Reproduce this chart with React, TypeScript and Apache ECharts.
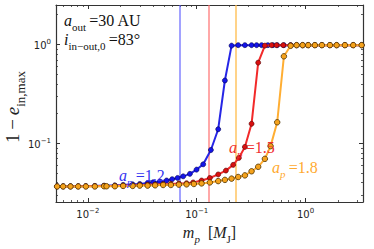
import React, { useEffect, useRef } from 'react';
import * as echarts from 'echarts';

// axis ranges
const xMin = 0.0051;
const xMax = 3.37;
const yMin = 0.0255;
const yMax = 2.51;
const xMinorTicks = [0.006, 0.007, 0.008, 0.009, 0.02, 0.03, 0.04, 0.05, 0.06, 0.07, 0.08, 0.09, 0.2, 0.3, 0.4, 0.5, 0.6, 0.7, 0.8, 0.9, 2, 3];
const yMinorTicks = [0.03, 0.04, 0.05, 0.06, 0.07, 0.08, 0.09, 0.2, 0.3, 0.4, 0.5, 0.6, 0.7, 0.8, 0.9, 2];

// a_p = 1.2
const massBlue = [0.00522, 0.00593, 0.00693, 0.00815, 0.00959, 0.0116, 0.0141, 0.0177, 0.0211, 0.0258, 0.0300, 0.0354, 0.0398, 0.0459, 0.0529, 0.0595, 0.0667, 0.0751, 0.0866, 0.0997, 0.1147, 0.1350, 0.1576, 0.1815, 0.2091, 0.2405, 0.2771, 0.3192, 0.3549, 0.3946, 0.4508, 0.5011, 0.5489, 0.6324, 0.7288, 0.8273, 0.9394, 1.057, 1.218, 1.413, 1.674, 1.929, 2.298, 2.740, 3.273];
const valBlue = [0.03677, 0.03677, 0.03677, 0.03677, 0.03694, 0.0371, 0.03735, 0.0376, 0.03794, 0.03846, 0.0388, 0.03967, 0.04039, 0.04112, 0.04205, 0.04338, 0.04465, 0.04637, 0.04913, 0.0542, 0.06137, 0.0857, 0.1389, 0.4323, 0.974, 0.985, 0.985, 0.985, 0.985, 0.985, 0.985, 0.985, 0.985, 0.985, 0.985, 0.985, 0.985, 0.985, 0.985, 0.985, 0.985, 0.985, 0.985, 0.985, 0.985];

// a_p = 1.5
const massRed = [0.00522, 0.00593, 0.00693, 0.00815, 0.00959, 0.0116, 0.0141, 0.0177, 0.0211, 0.0258, 0.0300, 0.0354, 0.0415, 0.0492, 0.0579, 0.0686, 0.0807, 0.0928, 0.1109, 0.1321, 0.1576, 0.1854, 0.2163, 0.2440, 0.2771, 0.3192, 0.3671, 0.4230, 0.4875, 0.5419, 0.6230, 0.7288, 0.8273, 0.9394, 1.057, 1.218, 1.413, 1.674, 1.929, 2.298, 2.740, 3.273];
const valRed = [0.03669, 0.03669, 0.03669, 0.03677, 0.03677, 0.03694, 0.0371, 0.03719, 0.03735, 0.0376, 0.03785, 0.03811, 0.03837, 0.03863, 0.03888, 0.03923, 0.0395, 0.04022, 0.04205, 0.04465, 0.04848, 0.053, 0.06058, 0.07126, 0.09201, 0.1577, 0.6556, 0.974, 0.985, 0.985, 0.985, 0.985, 0.985, 0.985, 0.985, 0.985, 0.985, 0.985, 0.985, 0.985, 0.985, 0.985];

// a_p = 1.8
const massOrange = [0.00522, 0.00593, 0.00693, 0.00815, 0.00959, 0.0116, 0.0141, 0.01485, 0.0177, 0.0211, 0.0258, 0.0300, 0.0354, 0.0415, 0.0492, 0.0579, 0.0686, 0.0807, 0.0942, 0.1109, 0.1321, 0.1576, 0.1815, 0.2091, 0.2405, 0.2771, 0.3192, 0.3671, 0.4230, 0.4773, 0.5489, 0.6324, 0.7288, 0.8273, 0.9394, 1.057, 1.218, 1.413, 1.674, 1.929, 2.298, 2.740, 3.273];
const valOrange = [0.0366, 0.0366, 0.0366, 0.0366, 0.0366, 0.0366, 0.0368, 0.0368, 0.0368, 0.0371, 0.0371, 0.03735, 0.03735, 0.0376, 0.0379, 0.0379, 0.0382, 0.03846, 0.0388, 0.03933, 0.04022, 0.04149, 0.0427, 0.04395, 0.04564, 0.0474, 0.05218, 0.05791, 0.06969, 0.09369, 0.1634, 0.7594, 0.970, 0.985, 0.985, 0.985, 0.985, 0.985, 0.985, 0.985, 0.985, 0.985, 0.985];

// critical masses (vertical lines)
const critBlue = 0.0669;
const critRed = 0.131;
const critOrange = 0.227;

const SERIF = 'Liberation Serif';
const SANS = 'DejaVu Sans';

// rich styles; key is 'color' for axis names and 'fill' for graphic texts
function mathRich(size: number, color: string, key: 'color' | 'fill') {
  const lift = Math.round(size * 0.28);
  const sub = Math.round(size * 0.68);
  return {
    i: { fontFamily: SERIF, fontStyle: 'italic', fontSize: size, [key]: color, verticalAlign: 'bottom', padding: [0, 0, lift, 0] },
    n: { fontFamily: SERIF, fontSize: size, [key]: color, verticalAlign: 'bottom', padding: [0, 0, lift, 0] },
    s: { fontFamily: SERIF, fontStyle: 'italic', fontSize: sub, [key]: color, verticalAlign: 'bottom' },
    r: { fontFamily: SERIF, fontSize: sub, [key]: color, verticalAlign: 'bottom' },
  };
}

function powLabel(v: number) {
  const e = Math.log10(v);
  const r = Math.round(e);
  if (Math.abs(e - r) > 1e-6) return '';
  return '{b|10}{p|' + (r < 0 ? '\u2212' + Math.abs(r) : String(r)) + '}';
}

const tickRich = {
  b: { fontFamily: SANS, fontSize: 10, color: '#222', verticalAlign: 'bottom' },
  p: { fontFamily: SANS, fontSize: 7, color: '#222', verticalAlign: 'bottom', padding: [0, 0, 5, 0] },
};

const frame = { show: true, onZero: false, lineStyle: { color: '#333', width: 1.2 } };

function makeX(pos: 'bottom' | 'top', major: boolean, withLabel: boolean, name?: any) {
  return {
    type: 'log',
    min: xMin,
    max: xMax,
    position: pos,
    axisLine: major ? frame : { show: false },
    splitLine: { show: false },
    axisTick: major
      ? { show: true, inside: true, length: 4, lineStyle: { color: '#333', width: 1 } }
      : { show: true, inside: true, length: 2, customValues: xMinorTicks, lineStyle: { color: '#333', width: 0.8 } },
    axisLabel: withLabel
      ? { show: true, margin: 5, formatter: powLabel, rich: tickRich, showMinLabel: false, showMaxLabel: false }
      : { show: false },
    ...(name || {}),
  };
}

function makeY(pos: 'left' | 'right', major: boolean, withLabel: boolean) {
  return {
    type: 'log',
    min: yMin,
    max: yMax,
    position: pos,
    axisLine: major ? frame : { show: false },
    splitLine: { show: false },
    axisTick: major
      ? { show: true, inside: true, length: 4, lineStyle: { color: '#333', width: 1 } }
      : { show: true, inside: true, length: 2, customValues: yMinorTicks, lineStyle: { color: '#333', width: 0.8 } },
    axisLabel: withLabel
      ? { show: true, margin: 5, formatter: powLabel, rich: tickRich, showMinLabel: false, showMaxLabel: false }
      : { show: false },
  };
}

function pairs(xs: number[], ys: number[]) {
  return xs.map((x, i) => [x, ys[i]]);
}

function vline(x: number, color: string) {
  return {
    silent: true,
    symbol: 'none',
    label: { show: false },
    lineStyle: { color, width: 1.5, type: 'solid' },
    data: [{ xAxis: x }],
  };
}

function note(text: string, x: number, y: number, color: string) {
  return {
    type: 'text',
    x,
    y,
    z: 10,
    style: { text, rich: mathRich(16, color, 'fill'), align: 'left', verticalAlign: 'top' },
  };
}

export default function App() {
  const ref = useRef<HTMLDivElement>(null);
  useEffect(() => {
    if (!ref.current) return;
    const chart = echarts.init(ref.current, undefined, { renderer: 'svg' });
    chart.setOption({
      animation: false,
      backgroundColor: '#fff',
      grid: { left: 56, right: 11, top: 5, bottom: 38 },
      xAxis: [
        makeX('bottom', true, true, {
          name: '{i|m}{s|p}{n|  [}{i|M}{r|J}{n|]}',
          nameLocation: 'middle',
          nameGap: 22,
          nameMoveOverlap: false,
          nameTextStyle: { rich: mathRich(16, '#222', 'color') },
        }),
        makeX('top', true, false),
        makeX('bottom', false, false),
        makeX('top', false, false),
      ],
      yAxis: [
        makeY('left', true, true),
        makeY('right', true, false),
        makeY('left', false, false),
        makeY('right', false, false),
      ],
      series: [
        {
          type: 'line',
          name: 'ap12',
          xAxisIndex: 0,
          yAxisIndex: 0,
          data: pairs(massBlue, valBlue),
          symbol: 'circle',
          symbolSize: 5,
          itemStyle: { color: '#1515e8', borderColor: '#000050', borderWidth: 0.6 },
          lineStyle: { color: '#2626e6', width: 2 },
          z: 3,
          markLine: { ...vline(critBlue, 'rgba(90,90,255,0.75)'), z: 1 },
        },
        {
          type: 'line',
          name: 'ap15',
          xAxisIndex: 0,
          yAxisIndex: 0,
          data: pairs(massRed, valRed),
          symbol: 'circle',
          symbolSize: 5,
          itemStyle: { color: '#d81010', borderColor: '#500000', borderWidth: 0.6 },
          lineStyle: { color: '#f22a2a', width: 2 },
          z: 4,
          markLine: { ...vline(critRed, 'rgba(255,110,110,0.8)'), z: 1 },
        },
        {
          type: 'line',
          name: 'ap18',
          xAxisIndex: 0,
          yAxisIndex: 0,
          data: pairs(massOrange, valOrange),
          symbol: 'circle',
          symbolSize: 5.5,
          itemStyle: { color: '#f5a21c', borderColor: '#4a3000', borderWidth: 0.8 },
          lineStyle: { color: '#ffae33', width: 2 },
          z: 5,
          markLine: { ...vline(critOrange, 'rgba(255,190,80,0.9)'), z: 1 },
        },
      ],
      graphic: [
        {
          type: 'text',
          x: 15,
          y: 107,
          rotation: Math.PI / 2,
          z: 10,
          style: { text: '{n|1\u2009\u2212\u2009}{i|e}{r|in,max}', rich: mathRich(19, '#222', 'fill'), align: 'center', verticalAlign: 'middle' },
        },
        note('{i|a}{r|out}{n|\u2009=30 AU}', 64, 12, '#111'),
        note('{i|i}{r|in\u2212out,0}{n|\u2009=83\u00b0}', 64, 31, '#111'),
        note('{i|a}{s|p}{n|\u2009=1.2}', 119, 167, '#3535f0'),
        note('{i|a}{s|p}{n|\u2009=1.5}', 229, 139, '#f03030'),
        note('{i|a}{s|p}{n|\u2009=1.8}', 272, 159, '#ffaa30'),
      ],
    });
    return () => chart.dispose();
  }, []);
  return <div ref={ref} style={{ width: 374, height: 249, position: 'absolute', left: 0, top: 0 }} />;
}
